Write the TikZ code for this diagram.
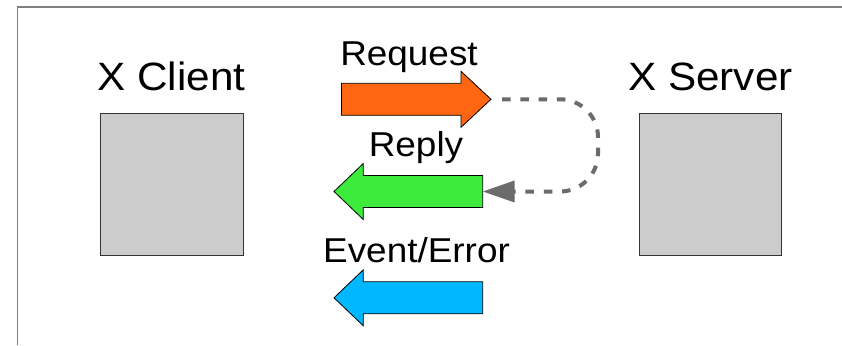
\documentclass[tikz,border=0pt]{standalone}
\usepackage{fontspec}
\setmainfont{Liberation Sans}[FakeStretch=1.07]
\usetikzlibrary{arrows.meta}
\definecolor{framegray}{HTML}{808080}
\definecolor{boxfill}{HTML}{CCCCCC}
\definecolor{boxline}{HTML}{333333}
\definecolor{reqorange}{HTML}{FF6611}
\definecolor{repgreen}{HTML}{3DEB3D}
\definecolor{evblue}{HTML}{00B8FF}
\definecolor{dashgray}{HTML}{6B6B6B}
\tikzset{
  title/.style={anchor=base, inner sep=0pt, font=\fontsize{39.5}{40}\selectfont},
  label/.style={anchor=base, inner sep=0pt, font=\fontsize{34.5}{35}\selectfont},
  party/.style={draw=boxline, line width=1pt, fill=boxfill, inner sep=0pt},
  blockarrow/.style={draw=black, line width=0.8pt, line join=miter},
  loopline/.style={draw=dashgray, line width=4pt, dash pattern=on 8.5pt off 9.8pt,
    rounded corners=38pt, -{Triangle[length=32pt 0 0, width=21pt 0 0]}}
}
\begin{document}
\begin{tikzpicture}[x=1pt, y=-1pt]
\useasboundingbox (0,0) rectangle (842,345);
\fill[white] (0,0) rectangle (842,345);
% frame
\draw[framegray, line width=1.3pt] (17.3,345) -- (17.3,7) -- (842,7);
% parties
\node[party, minimum width=143pt, minimum height=142pt] (client) at (171.5,184) {};
\node[party, minimum width=142pt, minimum height=142pt] (server) at (710,184) {};
\node[title] (clienttitle) at (171.5,90) {X Client};
\node[title] (servertitle) at (710.5,90) {X Server};
% request arrow
\coordinate (reqtip) at (491,99.3);
\coordinate (reqtail) at (341.5,99.3);
\draw[blockarrow, fill=reqorange] (341.5,83.3) -- (461,83.3) -- (461,71.3) -- (reqtip)
  -- (461,127.3) -- (461,115.3) -- (341.5,115.3) -- cycle;
\node[label] (reqlabel) at (409,65) {Request};
% reply arrow
\coordinate (reptip) at (334,191.5);
\coordinate (reptail) at (482.7,191.5);
\draw[blockarrow, fill=repgreen] (482.7,175.5) -- (363.3,175.5) -- (363.3,163.5) -- (reptip)
  -- (363.3,219.5) -- (363.3,207.5) -- (482.7,207.5) -- cycle;
\node[label] (replabel) at (416,156.7) {Reply};
% event arrow
\coordinate (evtip) at (334,297.8);
\coordinate (evtail) at (482.7,297.8);
\draw[blockarrow, fill=evblue] (482.7,281.8) -- (363.3,281.8) -- (363.3,269.8) -- (evtip)
  -- (363.3,325.8) -- (363.3,313.8) -- (482.7,313.8) -- cycle;
\node[label] (evlabel) at (416.5,262.3) {Event/Error};
% loop connector
\draw[loopline, shorten <=11pt] (reqtip) -- (598,99.3) -- (598,191.5) -- (reptail);
\end{tikzpicture}
\end{document}
